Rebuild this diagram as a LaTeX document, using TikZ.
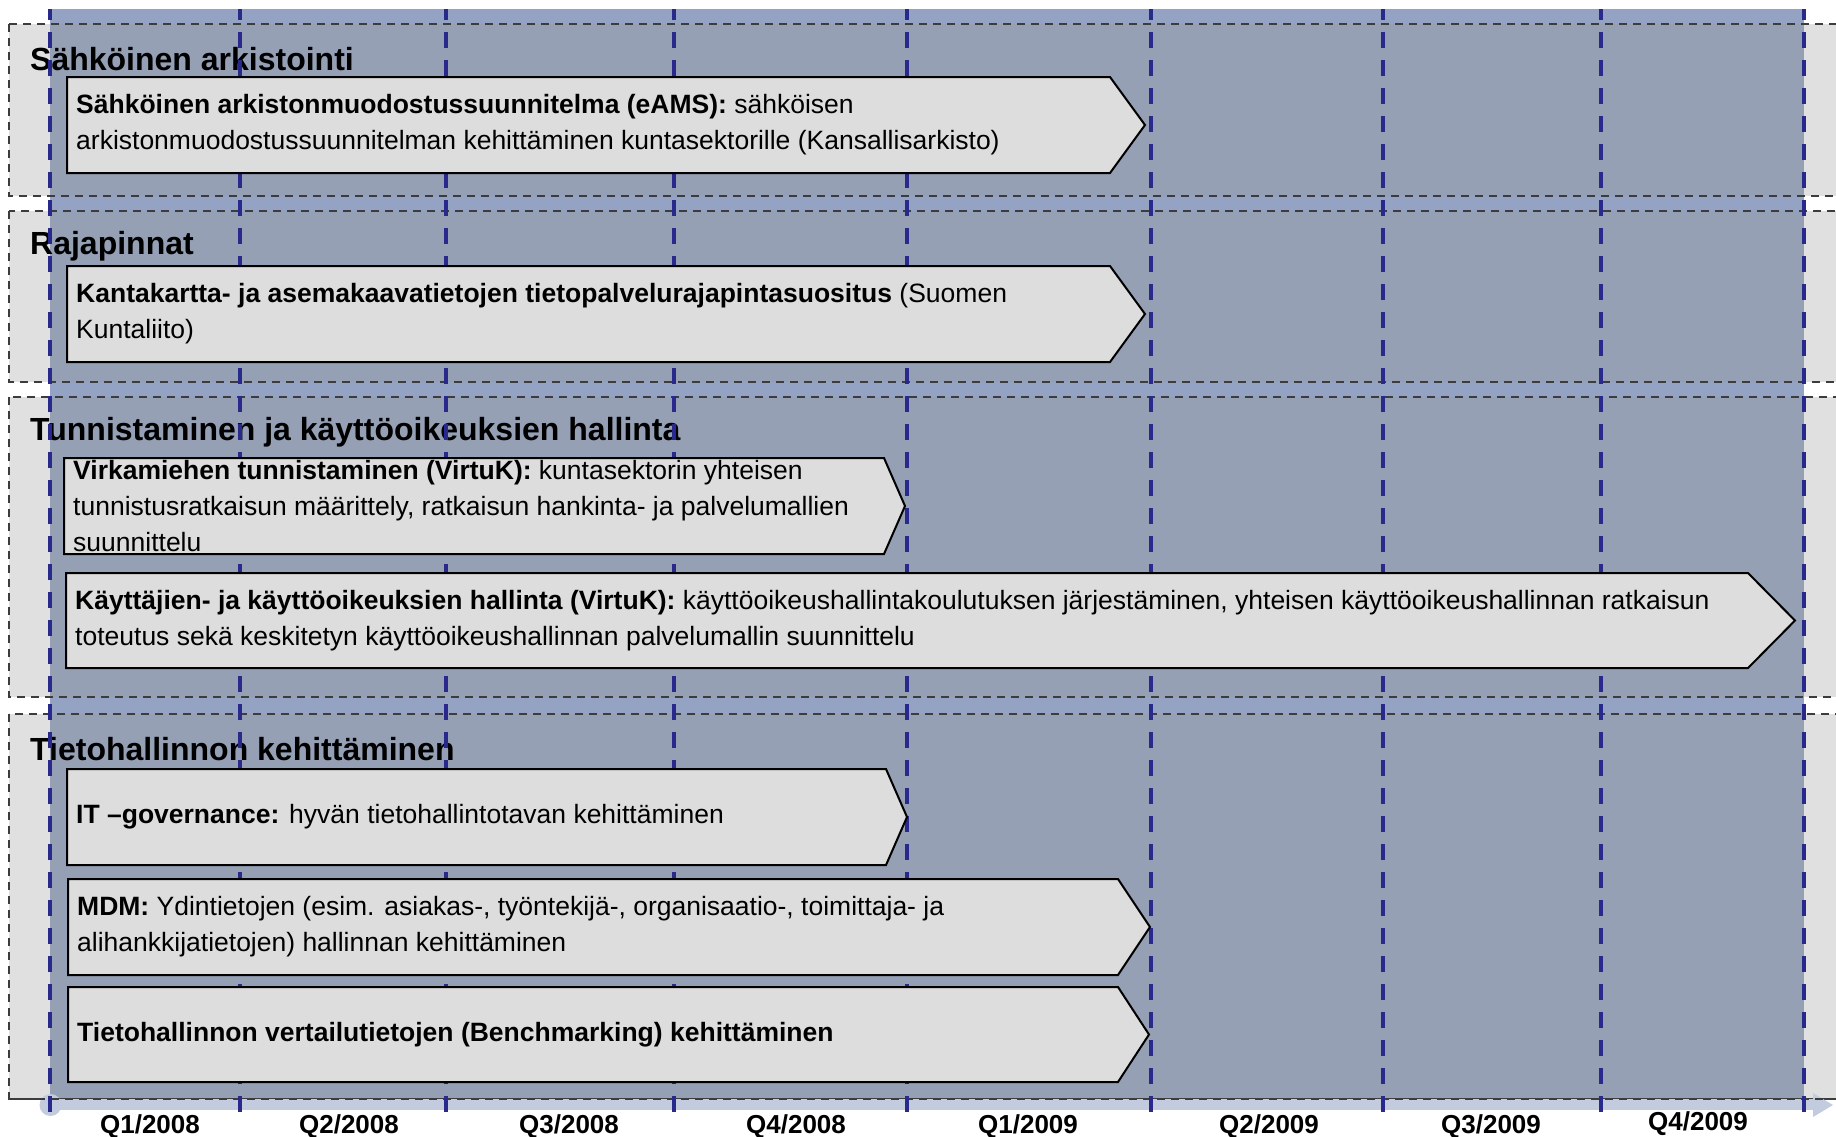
\documentclass[tikz,border=0pt]{standalone}
\usepackage{fontspec}
\setmainfont{Liberation Sans}
\definecolor{bgblue}{HTML}{94A3C4}
\definecolor{inblue}{HTML}{95A0B5}
\definecolor{lanegray}{HTML}{E0E0E0}
\definecolor{laneline}{HTML}{3C3C3C}
\definecolor{qblue}{HTML}{28298A}
\definecolor{boxgray}{HTML}{DDDDDD}
\definecolor{axisblue}{HTML}{C3CCDF}
\newcommand\mychev[6]{%
  \path[chev] (#1,#2) -- (#4,#2) -- (#5,{(#2+#3)/2}) -- (#4,#3) -- (#1,#3) -- cycle;
  \node[boxtext] (#6) at ({#1+9},{(#2+#3)/2})}
\newcommand\mylane[3]{%
  \fill[lanegray] (9,#1) rectangle (1850,#2);
  \fill[inblue] (50,#1) rectangle (1804,#2);
  \draw[laneborder] (9,#1) rectangle (1850,#2);
  \node[lanetitle] (#3) at (30,{#1+35})}
\begin{document}
\begin{tikzpicture}[x=1pt,y=-1pt,
  laneborder/.style={draw=laneline, line width=1.8, dash pattern=on 8 off 6},
  qline/.style={draw=qblue, line width=4, dash pattern=on 16 off 12},
  chev/.style={fill=boxgray, draw=black, line width=2, line join=miter},
  boxtext/.style={anchor=west, align=left, inner sep=0, font=\fontsize{26.5}{36}\selectfont},
  lanetitle/.style={anchor=west, inner sep=0, font=\fontsize{32}{38}\selectfont\bfseries},
  qlabel/.style={inner sep=0, font=\fontsize{26}{30}\selectfont\bfseries}
]
\useasboundingbox (0,0) rectangle (1836,1136);
\clip (0,0) rectangle (1836,1136);
\fill[white] (0,0) rectangle (1836,1136);
% blue timeline area
\fill[bgblue] (50,9) rectangle (1804,1099);
% lanes
\mylane{24}{196}{t1}{Sähköinen arkistointi};
\mylane{211}{382}{t2}{Rajapinnat};
\mylane{397}{697}{t3}{Tunnistaminen ja käyttöoikeuksien hallinta};
\mylane{714}{1099}{t4}{Tietohallinnon kehittäminen};
% axis
\fill[axisblue] (50,1099) rectangle (1814,1110);
\fill[axisblue] (1813,1093) -- (1833,1105) -- (1813,1117) -- cycle;
\fill[axisblue] (50.5,1105) circle (11);
\draw[laneborder] (9,1099) -- (1850,1099);
% quarter lines
\foreach \x in {50,240,446,674,907,1151,1383,1601,1804}
  \draw[qline, dash phase=5] (\x,9) -- (\x,1112);
% boxes
\mychev{67}{77}{173}{1110}{1145}{b1}{\textbf{Sähköinen arkistonmuodostussuunnitelma (eAMS):} sähköisen\\arkistonmuodostussuunnitelman kehittäminen kuntasektorille (Kansallisarkisto)};
\mychev{67}{266}{362}{1110}{1145}{b2}{\textbf{Kantakartta- ja asemakaavatietojen tietopalvelurajapintasuositus} (Suomen\\Kuntaliito)};
\mychev{64}{458}{554}{884}{905}{b3}{\textbf{Virkamiehen tunnistaminen (VirtuK):} kuntasektorin yhteisen\\tunnistusratkaisun määrittely, ratkaisun hankinta- ja palvelumallien\\suunnittelu};
\mychev{66}{573}{668}{1748}{1795}{b4}{\textbf{Käyttäjien- ja käyttöoikeuksien hallinta (VirtuK):} käyttöoikeushallintakoulutuksen järjestäminen, yhteisen käyttöoikeushallinnan ratkaisun\\toteutus sekä keskitetyn käyttöoikeushallinnan palvelumallin suunnittelu};
\mychev{67}{769}{865}{886}{907}{b5}{\textbf{IT –governance:} hyvän tietohallintotavan kehittäminen};
\mychev{68}{879}{975}{1118}{1150}{b6}{\textbf{MDM:} Ydintietojen (esim. asiakas-, työntekijä-, organisaatio-, toimittaja- ja\\alihankkijatietojen) hallinnan kehittäminen};
\mychev{68}{987}{1082}{1118}{1149}{b7}{\textbf{Tietohallinnon vertailutietojen (Benchmarking) kehittäminen}};
% axis labels
\node[qlabel] (q1) at (150,1127) {Q1/2008};
\node[qlabel] (q2) at (349,1127) {Q2/2008};
\node[qlabel] (q3) at (569,1127) {Q3/2008};
\node[qlabel] (q4) at (796,1127) {Q4/2008};
\node[qlabel] (q5) at (1028,1127) {Q1/2009};
\node[qlabel] (q6) at (1269,1127) {Q2/2009};
\node[qlabel] (q7) at (1491,1127) {Q3/2009};
\node[qlabel] (q8) at (1698,1124) {Q4/2009};
\end{tikzpicture}
\end{document}
